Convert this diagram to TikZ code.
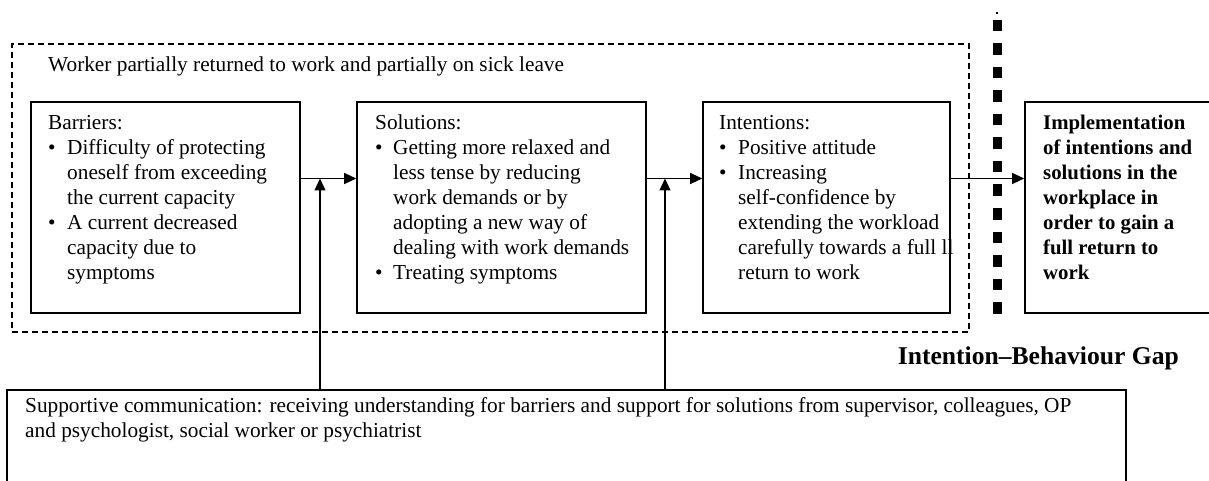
\documentclass[tikz,border=0pt]{standalone}
\usepackage{fontspec}
\setmainfont{Liberation Serif}
\usetikzlibrary{arrows.meta}
\begin{document}
\begin{tikzpicture}[x=1pt,y=-1pt,
  box/.style={draw,line width=1.6pt,rectangle,inner sep=0pt},
  grp/.style={draw,line width=1.1pt,dash pattern=on 6pt off 4pt,rectangle,inner sep=0pt},
  arr/.style={line width=1.3pt,-{Triangle[length=12pt,width=11pt]}},
  txt/.style={inner sep=0pt,anchor=base west,font=\fontsize{21.3}{25}\selectfont},
  btxt/.style={txt,font=\fontsize{20.8}{25}\selectfont\bfseries},
  stxt/.style={txt,font=\fontsize{21.3}{25}\selectfont},
  gtxt/.style={txt,font=\fontsize{25.6}{30}\selectfont\bfseries},
  gap/.style={line width=9pt,dash pattern=on 11.5pt off 12pt}
]
\useasboundingbox (0,0) rectangle (1209,481);

% group (dashed)
\node[grp,minimum width=957pt,minimum height=288pt] (grp) at (490.5,188) {};
\node[txt] (grptxt) at (48,72) {Worker partially returned to work and partially on sick leave};

% boxes
\node[box,minimum width=269pt,minimum height=211pt] (bar) at (165.5,207.5) {};
\node[box,minimum width=289pt,minimum height=211pt] (sol) at (501.5,207.5) {};
\node[box,minimum width=247pt,minimum height=211pt] (int) at (826.5,207.5) {};
\node[box,minimum width=190pt,minimum height=211pt] (imp) at (1120,207.5) {};
\node[box,minimum width=1119pt,minimum height=100pt] (sup) at (566.5,440) {};

% texts
\node[txt] (bartxt) at (48,130) {\begin{tabular}[t]{@{}p{19pt}@{}l@{}}
\multicolumn{2}{@{}l@{}}{Barriers:}\\
\textbullet & Difficulty of protecting\\
 & oneself from exceeding\\
 & the current capacity\\
\textbullet & A current decreased\\
 & capacity due to\\
 & symptoms
\end{tabular}};
\node[txt] (soltxt) at (375,130) {\begin{tabular}[t]{@{}p{18pt}@{}l@{}}
\multicolumn{2}{@{}l@{}}{Solutions:}\\
\textbullet & Getting more relaxed and\\
 & less tense by reducing\\
 & work demands or by\\
 & adopting a new way of\\
 & dealing with work demands\\
\textbullet & Treating symptoms
\end{tabular}};
\node[txt] (inttxt) at (719,130) {\begin{tabular}[t]{@{}p{19pt}@{}l@{}}
\multicolumn{2}{@{}l@{}}{Intentions:}\\
\textbullet & Positive attitude\\
\textbullet & Increasing\\
 & self-confidence by\\
 & extending the workload\\
 & carefully towards a full ll\\
 & return to work
\end{tabular}};
\node[btxt] (imptxt) at (1043,130) {\begin{tabular}[t]{@{}l@{}}
Implementation\\
of intentions and\\
solutions in the\\
workplace in\\
order to gain a\\
full return to\\
work
\end{tabular}};
\node[stxt] (suptxt) at (25,412) {\begin{tabular}[t]{@{}l@{}}
Supportive communication: receiving understanding for barriers and support for solutions from supervisor, colleagues, OP\\
and psychologist, social worker or psychiatrist
\end{tabular}};
\node[gtxt,anchor=base east] (gaptxt) at (1179,364) {Intention--Behaviour Gap};

% gap line
\coordinate (gtop) at (997,20);
\coordinate (gbot) at (997,314);
\draw[gap] (gtop) -- (gbot);
\fill (996,12) rectangle (998,14);

% connectors
\coordinate (lvl) at (0,178.5);
\coordinate (j1) at (320,178.5);
\coordinate (j2) at (665,178.5);
\draw[arr] (bar.east |- lvl) -- (sol.west |- lvl);
\draw[arr] (sol.east |- lvl) -- (int.west |- lvl);
\draw[arr] (int.east |- lvl) -- (imp.west |- lvl);
\draw[arr] (sup.north -| j1) -- (j1);
\draw[arr] (sup.north -| j2) -- (j2);
\end{tikzpicture}
\end{document}
